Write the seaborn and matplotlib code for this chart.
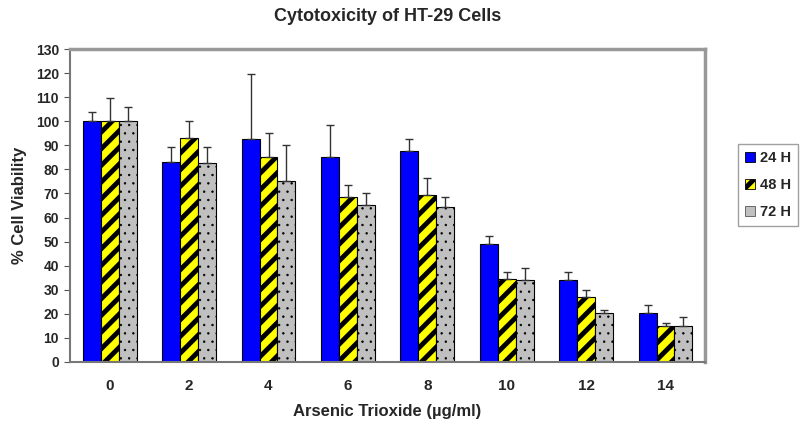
import numpy as np
import pandas as pd
import matplotlib
matplotlib.use("Agg")
import matplotlib.pyplot as plt
from matplotlib.patches import Patch
import seaborn as sns

# -------------------------
# Data
# -------------------------
doses = ["0", "2", "4", "6", "8", "10", "12", "14"]
series = ["24 H", "48 H", "72 H"]
viab_24 = [100, 83, 92.5, 85, 87.5, 49, 34, 20.5]
viab_48 = [100, 93, 85, 68.5, 69.5, 34.5, 27, 15]
viab_72 = [100, 82.5, 75, 65, 64.5, 34, 20.5, 15]
err_24 = [4, 6.5, 27, 13.5, 5, 3.5, 3.5, 3]
err_48 = [9.5, 7, 10, 5, 7, 3, 3, 1]
err_72 = [6, 7, 15, 5, 4, 5, 1, 3.5]

df = pd.DataFrame({
    "dose": doses * 3,
    "time": np.repeat(series, len(doses)),
    "viab": viab_24 + viab_48 + viab_72,
})
errs = [err_24, err_48, err_72]

sns.set_style("white")
plt.rcParams["font.family"] = ["Liberation Sans", "DejaVu Sans"]
plt.rcParams["hatch.linewidth"] = 3.5

fig = plt.figure(figsize=(8, 4.34), dpi=100)
ax = fig.add_axes([0.0875, 0.166, 0.794, 0.721])

face = {"24 H": "#0000ff", "48 H": "#ffff00", "72 H": "#c0c0c0"}
sns.barplot(data=df, x="dose", y="viab", hue="time", hue_order=series,
            palette=face, saturation=1, width=0.68, gap=0, edgecolor="black",
            linewidth=0.8, errorbar=None, legend=False, ax=ax)

# stripes for 48 H, small dots for 72 H, then upper error bars
hatches = [None, "//", ".."]
for cont, h, e in zip(ax.containers, hatches, errs):
    xs = []
    ys = []
    for bar in cont:
        if h:
            bar.set_hatch(h)
            if h == "..":
                bar._hatch_linewidth = 0.5
        xs.append(bar.get_x() + bar.get_width() / 2)
        ys.append(bar.get_height())
    ax.errorbar(xs, ys, yerr=[np.zeros(len(e)), e], fmt="none",
                ecolor="#333333", elinewidth=1, capsize=3, capthick=1)

ax.set_ylim(0, 130)
ax.set_yticks(range(0, 131, 10))
ax.set_xlim(-0.5, len(doses) - 0.5)
ax.set_xticks(np.arange(-0.5, len(doses), 1), minor=True)
ax.tick_params(axis="x", which="major", length=0, pad=12)
ax.tick_params(axis="x", which="minor", length=5, direction="out", color="#555555")
ax.tick_params(axis="y", length=4, direction="out", color="#555555", pad=4)
ax.tick_params(left=True)
for lab in ax.get_xticklabels() + ax.get_yticklabels():
    lab.set_fontweight("bold")
for lab in ax.get_xticklabels():
    lab.set_fontsize(11)
for lab in ax.get_yticklabels():
    lab.set_fontsize(10)

for side in ["top", "right"]:
    ax.spines[side].set_color("#999999")
    ax.spines[side].set_linewidth(2.5)
for side in ["left", "bottom"]:
    ax.spines[side].set_color("#777777")
    ax.spines[side].set_linewidth(1.5)

ax.set_title("Cytotoxicity of HT-29 Cells", fontsize=13, fontweight="bold", pad=20)
ax.set_xlabel("Arsenic Trioxide (µg/ml)", fontsize=12, fontweight="bold", labelpad=8)
ax.set_ylabel("% Cell Viability", fontsize=12, fontweight="bold", labelpad=6)

handles = [
    Patch(facecolor=face["24 H"], edgecolor="black", linewidth=0.6, label="24 H"),
    Patch(facecolor=face["48 H"], edgecolor="black", linewidth=0.6, hatch="//", label="48 H"),
    Patch(facecolor=face["72 H"], edgecolor="#555555", linewidth=0.6, label="72 H"),
]
leg = ax.legend(handles=handles, loc="center left", bbox_to_anchor=(1.052, 0.565),
                frameon=True, fancybox=False, edgecolor="#888888",
                prop={"weight": "bold", "size": 10.5}, handlelength=0.7,
                handleheight=0.7, handletextpad=0.35, borderpad=0.45,
                labelspacing=0.9, borderaxespad=0)

fig.savefig("out.png", dpi=100)
